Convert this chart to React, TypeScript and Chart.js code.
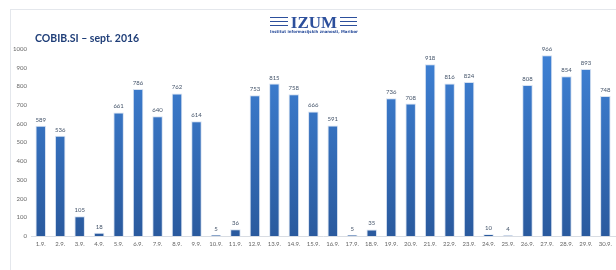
import React, { useEffect, useRef } from "react";
import { Chart, registerables } from "chart.js";

Chart.register(...registerables);

const labels = ["1.9.", "2.9.", "3.9.", "4.9.", "5.9.", "6.9.", "7.9.", "8.9.", "9.9.", "10.9.", "11.9.", "12.9.", "13.9.", "14.9.", "15.9.", "16.9.", "17.9.", "18.9.", "19.9.", "20.9.", "21.9.", "22.9.", "23.9.", "24.9.", "25.9.", "26.9.", "27.9.", "28.9.", "29.9.", "30.9."];
const values = [589, 536, 105, 18, 661, 786, 640, 762, 614, 5, 36, 753, 815, 758, 666, 591, 5, 35, 736, 708, 918, 816, 824, 10, 4, 808, 966, 854, 893, 748];
const yMin = 0;
const yMax = 1000;
const yStep = 100;
const title = "COBIB.SI – sept. 2016";
const logoText = "IZUM";
const logoSub = "Institut informacijskih znanosti, Maribor";

const decorPlugin = {
  id: "decor",
  beforeDraw(chart: any) {
    const ctx = chart.ctx;
    ctx.save();
    ctx.fillStyle = "#ffffff";
    ctx.fillRect(0, 0, chart.width, chart.height);
    ctx.strokeStyle = "#e4e7ec";
    ctx.lineWidth = 1;
    ctx.beginPath();
    ctx.moveTo(10, 9.5);
    ctx.lineTo(chart.width, 9.5);
    ctx.moveTo(10.5, 9);
    ctx.lineTo(10.5, chart.height);
    ctx.stroke();
    // title
    ctx.fillStyle = "#1f3e78";
    ctx.font = "bold 10.5px Lato, 'Open Sans', sans-serif";
    ctx.textBaseline = "middle";
    ctx.textAlign = "left";
    ctx.fillText(title, 35, 39);
    // logo
    const blue = "#2c4f9c";
    ctx.strokeStyle = blue;
    ctx.lineWidth = 1;
    ctx.beginPath();
    [17.5, 21.5, 25.5].forEach((y) => {
      ctx.moveTo(270, y);
      ctx.lineTo(288, y);
      ctx.moveTo(340, y);
      ctx.lineTo(357, y);
    });
    ctx.stroke();
    ctx.fillStyle = blue;
    ctx.font = "bold 17px 'Liberation Serif', serif";
    ctx.textAlign = "center";
    ctx.textBaseline = "alphabetic";
    ctx.fillText(logoText, 314, 28, 52);
    ctx.font = "bold 4px 'DejaVu Sans', sans-serif";
    ctx.fillText(logoSub, 314, 33, 88);
    ctx.restore();
  },
  afterDatasetsDraw(chart: any) {
    const ctx = chart.ctx;
    const meta = chart.getDatasetMeta(0);
    ctx.save();
    ctx.fillStyle = "#44546a";
    ctx.font = "6px Lato, 'DejaVu Sans', sans-serif";
    ctx.textAlign = "center";
    ctx.textBaseline = "bottom";
    meta.data.forEach((bar: any, i: number) => {
      ctx.fillText(String(values[i]), bar.x, bar.y - 3);
    });
    ctx.restore();
  },
};

export default function App() {
  const ref = useRef<HTMLCanvasElement | null>(null);
  useEffect(() => {
    if (!ref.current) return;
    const chart = new Chart(ref.current, {
      type: "bar",
      data: {
        labels,
        datasets: [
          {
            data: values,
            backgroundColor: (c: any) => {
              const ch = c.chart;
              const area = ch.chartArea;
              if (!area) return "#3474c4";
              const g = ch.ctx.createLinearGradient(0, area.top, 0, area.bottom);
              g.addColorStop(0, "#3f82d6");
              g.addColorStop(1, "#2a5a9e");
              return g;
            },
            borderColor: "rgba(210,222,240,0.9)",
            borderWidth: 1,
            barPercentage: 0.6,
            categoryPercentage: 0.9,
          },
        ],
      },
      options: {
        responsive: false,
        maintainAspectRatio: false,
        animation: false,
        layout: { padding: { left: 10, top: 49, right: 0, bottom: 0 } },
        plugins: { legend: { display: false }, tooltip: { enabled: false }, title: { display: false } },
        scales: {
          x: {
            grid: { display: false, drawTicks: false },
            border: { display: true, color: "#d9dde3" },
            ticks: {
              color: "#666666",
              font: { size: 6, family: "Lato, 'DejaVu Sans', sans-serif" },
              maxRotation: 0,
              autoSkip: false,
              padding: 4,
            },
            afterFit: (s: any) => {
              s.height = 34;
            },
          },
          y: {
            min: yMin,
            max: yMax,
            grid: { display: false, drawTicks: false },
            border: { display: false },
            ticks: {
              stepSize: yStep,
              color: "#666666",
              font: { size: 6, family: "Lato, 'DejaVu Sans', sans-serif" },
              padding: 4,
              callback: (v: any) => String(v),
            },
            afterFit: (s: any) => {
              s.width = 21;
            },
          },
        },
      },
      plugins: [decorPlugin],
    });
    return () => chart.destroy();
  }, []);
  return (
    <div style={{ position: "absolute", left: 0, top: 0, width: 616, height: 270, background: "#fff" }}>
      <canvas ref={ref} width={616} height={270} style={{ display: "block", width: 616, height: 270 }} />
    </div>
  );
}
